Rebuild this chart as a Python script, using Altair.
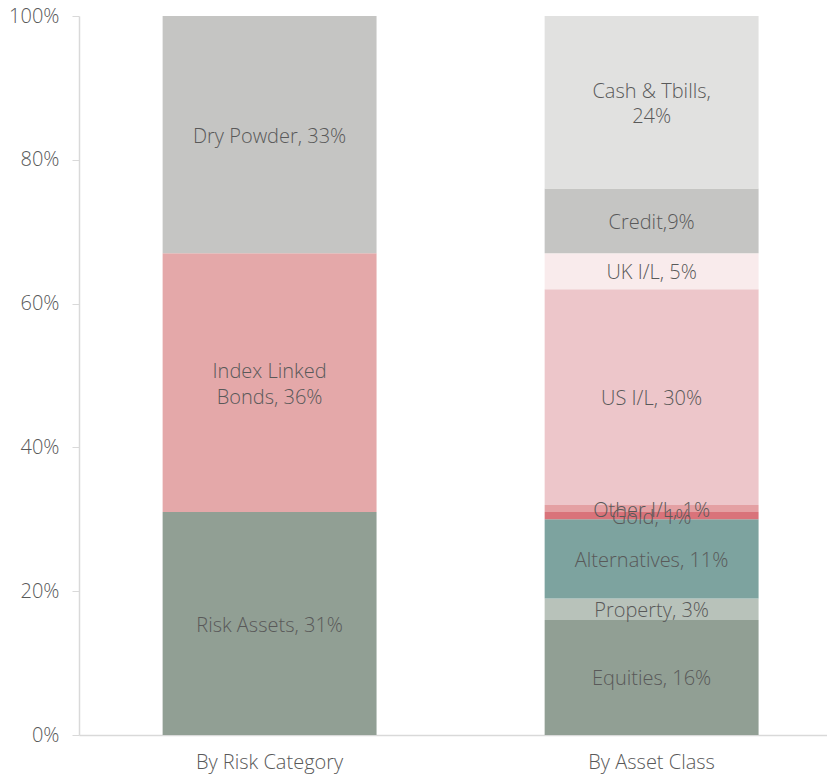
import altair as alt
import pandas as pd

categories = ["By Risk Category", "By Asset Class"]

risk_segments = ["Risk Assets", "Index Linked Bonds", "Dry Powder"]
risk_values = [31, 36, 33]
risk_labels = ["Risk Assets, 31%", "Index Linked\nBonds, 36%", "Dry Powder, 33%"]

asset_segments = ["Equities", "Property", "Alternatives", "Gold", "Other I/L",
                  "US I/L", "UK I/L", "Credit", "Cash & Tbills"]
asset_values = [16, 3, 11, 1, 1, 30, 5, 9, 24]
asset_labels = ["Equities, 16%", "Property, 3%", "Alternatives, 11%", "Gold, 1%",
                "Other I/L, 1%", "US I/L, 30%", "UK I/L, 5%", "Credit,9%",
                "Cash & Tbills,\n24%"]

seg_keys = ["R:Risk Assets", "R:Index Linked Bonds", "R:Dry Powder",
            "A:Equities", "A:Property", "A:Alternatives", "A:Gold", "A:Other I/L",
            "A:US I/L", "A:UK I/L", "A:Credit", "A:Cash & Tbills"]
seg_colors = ["#919f94", "#e4a8a9", "#c5c5c3",
              "#919f94", "#b8c2ba", "#7da39f", "#d9737a", "#e4a0a3",
              "#edc6ca", "#f9ebec", "#c5c5c3", "#e1e1e0"]

rows = []
for cat, prefix, segs, vals, labs in [
    (categories[0], "R:", risk_segments, risk_values, risk_labels),
    (categories[1], "A:", asset_segments, asset_values, asset_labels),
]:
    cum = 0
    for s, v, l in zip(segs, vals, labs):
        rows.append({"cat": cat, "key": prefix + s, "start": cum / 100,
                     "end": (cum + v) / 100, "mid": (cum + v / 2) / 100,
                     "label": l, "multi": "\n" in l})
        cum += v
df = pd.DataFrame(rows)

TXT = "#595959"
FS = 20

x = alt.X("cat:N", sort=categories, title=None,
          scale=alt.Scale(paddingInner=0.44, paddingOuter=0.199, align=0.55),
          axis=alt.Axis(labelAngle=0, ticks=False, labelFontSize=FS,
                        labelFontWeight=300,
                        labelColor=TXT, labelFont="Open Sans",
                        labelPadding=17, domainColor="#d9d9d9", domainWidth=1.5))

bars = alt.Chart(df).mark_bar().encode(
    x=x,
    y=alt.Y("start:Q", title=None,
            scale=alt.Scale(domain=[0, 1], nice=False),
            axis=alt.Axis(format=".0%", values=[0, 0.2, 0.4, 0.6, 0.8, 1.0],
                          grid=False, tickSize=7, tickColor="#d9d9d9",
                          domainColor="#d9d9d9", domainWidth=1.5,
                          labelFontSize=FS, labelFontWeight=300,
                          labelColor=TXT,
                          labelFont="Open Sans", labelPadding=13)),
    y2="end:Q",
    color=alt.Color("key:N", scale=alt.Scale(domain=seg_keys, range=seg_colors),
                    legend=None),
)

text_single = alt.Chart(df).transform_filter("!datum.multi").mark_text(
    font="Open Sans", fontSize=FS, fontWeight=300, color=TXT, baseline="middle",
    dy=2,
).encode(
    x=alt.X("cat:N", sort=categories),
    y=alt.Y("mid:Q"),
    text="label:N",
)

text_multi = alt.Chart(df).transform_filter("datum.multi").mark_text(
    font="Open Sans", fontSize=FS, fontWeight=300, color=TXT, lineBreak="\n",
    lineHeight=25.5, baseline="middle", dy=-10.5,
).encode(
    x=alt.X("cat:N", sort=categories),
    y=alt.Y("mid:Q"),
    text="label:N",
)

chart = (bars + text_single + text_multi).properties(
    width=748, height=719,
    padding={"left": 71, "top": 8, "right": 0, "bottom": 40},
    autosize=alt.AutoSizeParams(type="none"),
).configure_view(stroke=None)

chart.save("out.html", embed_options={"renderer": "svg", "actions": False})
